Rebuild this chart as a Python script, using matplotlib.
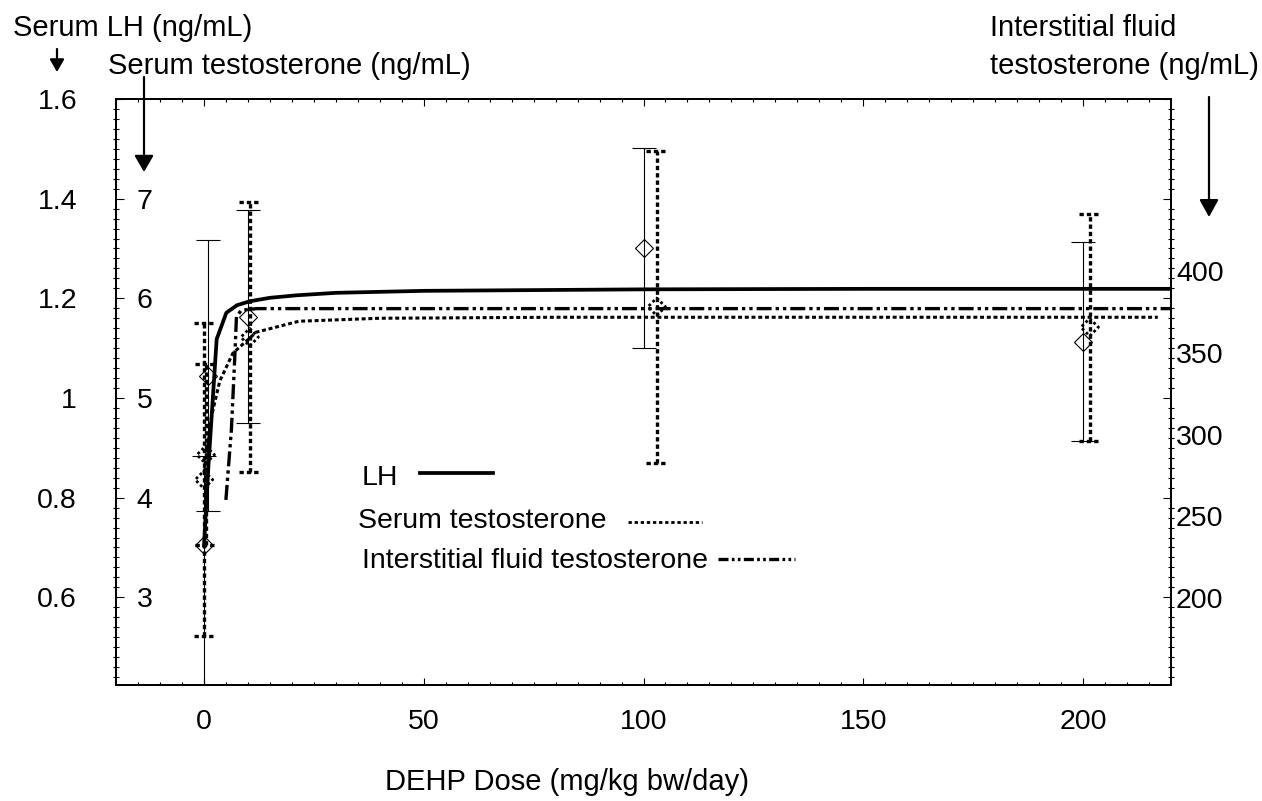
import matplotlib
matplotlib.use("Agg")
import matplotlib.pyplot as plt
from matplotlib.lines import Line2D
from matplotlib.patches import FancyArrowPatch, ArrowStyle
from matplotlib.ticker import MultipleLocator, FixedLocator, FixedFormatter
from matplotlib.transforms import IdentityTransform

plt.rcParams["font.family"] = ["Liberation Sans", "DejaVu Sans"]

# -----------------------------
# Data
# -----------------------------
# LH, ng/mL (open diamonds, thin error bars)
LH_DOSE = [0, 1, 10, 100, 200]
LH_MEAN = [0.705, 1.045, 1.163, 1.301, 1.113]
LH_ERR_LO = [0.30, 0.272, 0.214, 0.200, 0.200]
LH_ERR_HI = [0.178, 0.272, 0.214, 0.200, 0.200]

# Serum testosterone, ng/mL (dotted error bars)
ST_DOSE = [0, 0.4, 10.4, 103, 201.5]
ST_MEAN = [4.18, 4.43, 5.61, 5.915, 5.71]
ST_ERR = [1.573, 0.907, 1.354, 1.565, 1.14]

# fitted curves
LH_FIT_DOSE = [0, 1, 2.9, 5.1, 7.5, 10.4, 15, 21, 30, 50, 100, 150, 222]
LH_FIT = [0.70, 0.86, 1.118, 1.171, 1.186, 1.194, 1.201, 1.206, 1.211,
          1.215, 1.218, 1.219, 1.219]

ST_FIT_DOSE = [0, 0.64, 1.75, 3.6, 6.6, 11.9, 21.6, 40, 80, 150, 217]
ST_FIT = [4.25, 4.43, 4.82, 5.17, 5.45, 5.66, 5.77, 5.80, 5.81, 5.81, 5.81]

IF_FIT_DOSE = [5.0, 6.25, 7.0, 7.4, 8.5, 12, 30, 100, 220]
IF_FIT = [260, 303, 346, 372, 376, 377, 377, 377, 377]

# axis ticks
LH_TICKS = [0.6, 0.8, 1.0, 1.2, 1.4, 1.6]
LH_TICK_LABELS = ["0.6", "0.8", "1", "1.2", "1.4", "1.6"]
ST_TICKS = [3, 4, 5, 6, 7]
IF_TICKS = [200, 250, 300, 350, 400]

W, H = 1262, 801
FS_TICK = 20.5
FS_TEXT = 21
FS_LEG = 20.5

DOT = (0, (1.3, 0.9))
DASHDOTDOT = (0, (4.5, 1.2, 1.0, 1.2, 1.0, 1.2))


def fx(x):
    return x / W


def fy(y):
    return 1 - y / H


def arrow(fig, x, y0, y1, hl, hw):
    a = FancyArrowPatch((x, H - y0), (x, H - y1),
                        arrowstyle=ArrowStyle("-|>", head_length=hl, head_width=hw),
                        mutation_scale=1, lw=1.6, color="black",
                        transform=IdentityTransform(), shrinkA=0, shrinkB=0)
    fig.add_artist(a)


def main() -> None:
    fig = plt.figure(figsize=(W / 100, H / 100), dpi=100)
    ax = fig.add_axes([fx(116), fy(685), fx(1171 - 116), (685 - 99) / H])

    ax.set_xlim(-20, 220)
    ax.set_ylim(0.424, 1.6)
    ax.xaxis.set_major_locator(MultipleLocator(50))
    ax.xaxis.set_minor_locator(MultipleLocator(5))
    ax.yaxis.set_major_locator(FixedLocator(LH_TICKS))
    ax.yaxis.set_major_formatter(FixedFormatter(LH_TICK_LABELS))
    ax.yaxis.set_minor_locator(MultipleLocator(0.02))

    # serum testosterone scale (labels inside, left)
    ax_t = ax.twinx()
    ax_t.set_ylim(2.12, 8.0)
    ax_t.set_yticks(ST_TICKS)
    ax_t.yaxis.tick_left()
    ax_t.tick_params(axis="y", length=0, direction="in", pad=-15,
                     labelsize=FS_TICK)
    for lab in ax_t.get_yticklabels():
        lab.set_horizontalalignment("left")

    # interstitial fluid testosterone scale (labels right)
    ax_if = ax.twinx()
    ax_if.set_ylim(146.8, 505.2)
    ax_if.set_yticks(IF_TICKS)
    ax_if.tick_params(axis="y", length=0, direction="in", pad=3.6,
                      labelsize=FS_TICK)

    ax.tick_params(axis="x", which="major", direction="in", length=5, width=0.8,
                   top=True, pad=17, labelsize=FS_TICK)
    ax.tick_params(axis="x", which="minor", direction="in", length=2.5,
                   width=0.8, top=True)
    ax.tick_params(axis="y", which="major", direction="in", length=6, width=0.8,
                   left=True, right=True, labelleft=True, labelright=False,
                   pad=28, labelsize=FS_TICK)
    ax.tick_params(axis="y", which="minor", direction="inout", length=5,
                   width=0.8, left=True, right=True)
    for a in (ax, ax_t, ax_if):
        for sp in a.spines.values():
            sp.set_linewidth(1.2)

    # LH data + fit
    ax.errorbar(LH_DOSE, LH_MEAN, yerr=[LH_ERR_LO, LH_ERR_HI], fmt="D", ms=9,
                mfc="none", mec="black", mew=0.8, ecolor="black",
                elinewidth=0.8, capsize=8.3, capthick=0.8, zorder=3)
    ax.plot(LH_FIT_DOSE, LH_FIT, color="black", lw=2.7, solid_capstyle="butt",
            zorder=4)

    # serum testosterone data + fit
    lo = [m - e for m, e in zip(ST_MEAN, ST_ERR)]
    hi = [m + e for m, e in zip(ST_MEAN, ST_ERR)]
    ax_t.vlines(ST_DOSE, lo, hi, colors="black", linestyles=DOT, lw=2.4)
    cap_l = [d - 2.35 for d in ST_DOSE]
    cap_r = [d + 2.35 for d in ST_DOSE]
    ax_t.hlines(lo + hi, cap_l + cap_l, cap_r + cap_r, colors="black",
                linestyles=DOT, lw=2.4)
    ax_t.scatter(ST_DOSE, ST_MEAN, marker="D", s=80, facecolors="none",
                 edgecolors="black", linewidths=2.0, linestyle=(0, (1.0, 1.0)),
                 zorder=5)
    ax_t.plot(ST_FIT_DOSE, ST_FIT, color="black", lw=2.2, linestyle=DOT)

    # interstitial fluid fit
    ax_if.plot(IF_FIT_DOSE, IF_FIT, color="black", lw=2.4, linestyle=DASHDOTDOT)

    # axis titles and arrows
    fig.text(fx(13), fy(36), "Serum LH (ng/mL)", fontsize=FS_TEXT, va="baseline")
    fig.text(fx(108), fy(74), "Serum testosterone (ng/mL)", fontsize=FS_TEXT,
             va="baseline")
    fig.text(fx(990), fy(36), "Interstitial fluid", fontsize=FS_TEXT,
             va="baseline")
    fig.text(fx(990), fy(74), "testosterone (ng/mL)", fontsize=FS_TEXT,
             va="baseline")
    fig.text(fx(567), fy(782), "DEHP Dose (mg/kg bw/day)", fontsize=FS_TEXT,
             ha="center", va="center")
    arrow(fig, 57, 49, 72, hl=7.5, hw=4.3)
    arrow(fig, 144, 77, 172, hl=10, hw=5.8)
    arrow(fig, 1209, 97, 217, hl=10.5, hw=5.8)

    # hand-placed legend
    fig.text(fx(362), fy(485), "LH", fontsize=FS_LEG, va="baseline")
    fig.add_artist(Line2D([fx(420), fx(493)], [fy(473), fy(473)],
                          color="black", lw=2.7, transform=fig.transFigure))
    fig.text(fx(358), fy(528), "Serum testosterone", fontsize=FS_LEG,
             va="baseline")
    fig.add_artist(Line2D([fx(628), fx(702)], [fy(522), fy(522)],
                          color="black", lw=2.0, linestyle=(0, (1.2, 1.0)),
                          transform=fig.transFigure))
    fig.text(fx(362), fy(568), "Interstitial fluid testosterone",
             fontsize=FS_LEG, va="baseline")
    fig.add_artist(Line2D([fx(718), fx(795)], [fy(559), fy(559)],
                          color="black", lw=2.4,
                          linestyle=(0, (3.0, 1.0, 0.8, 1.0, 0.8, 1.0)),
                          transform=fig.transFigure))

    fig.savefig("out.png", dpi=100)
    plt.close(fig)


if __name__ == "__main__":
    main()
